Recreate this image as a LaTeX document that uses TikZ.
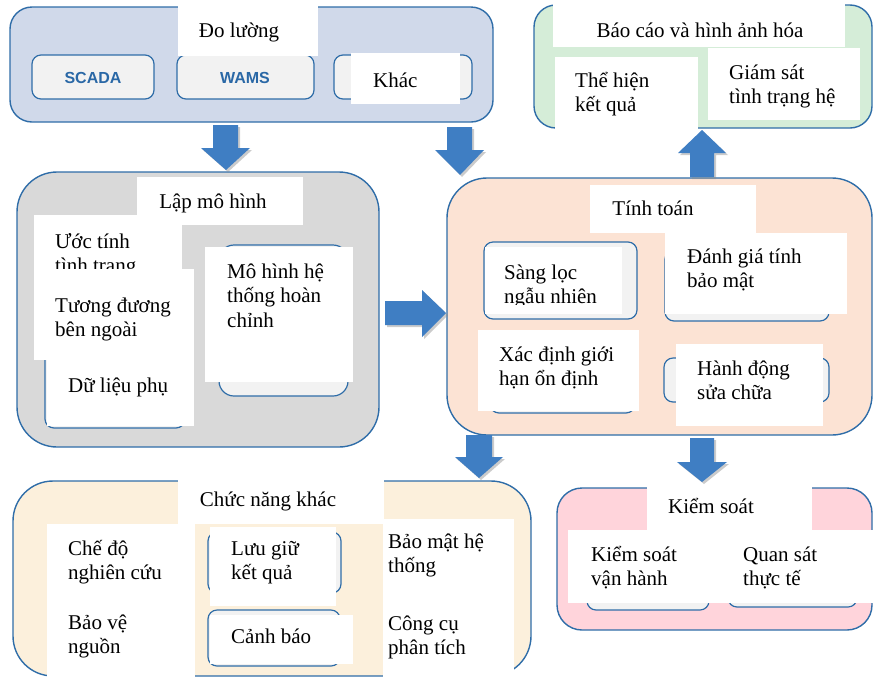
\documentclass[tikz,border=0pt]{standalone}
\usepackage{fontspec}
\setmainfont{Liberation Serif}
\newfontfamily\hdsans{Liberation Sans}
\usetikzlibrary{shadows}
\definecolor{bord}{HTML}{2F6DA8}
\definecolor{fmeas}{HTML}{D0D9EA}
\definecolor{frep}{HTML}{D5EDD8}
\definecolor{fmod}{HTML}{D9D9D9}
\definecolor{fcalc}{HTML}{FCE3D4}
\definecolor{fother}{HTML}{FCF0DC}
\definecolor{fctrl}{HTML}{FFD4DB}
\definecolor{fin}{HTML}{F2F2F2}
\definecolor{arrblue}{HTML}{3F7EC3}
\definecolor{sansblue}{HTML}{2A68A6}
\newcommand\tstrut{\rule{0pt}{21pt}}
\begin{document}
\begin{tikzpicture}[x=1pt,y=-1pt,
  outerbox/.style={draw=bord, line width=1.4pt, rounded corners=#1},
  innerbox/.style={draw=bord, line width=1.2pt, fill=fin, rounded corners=9pt},
  wh/.style={fill=white},
  txt/.style={anchor=north west, inner sep=0pt, align=left, font=\fontsize{21}{24.5}\selectfont},
  ttl/.style={anchor=base, inner sep=0pt, font=\fontsize{21}{24.5}\selectfont},
  sanslbl/.style={anchor=base, inner sep=0pt, text=sansblue, font=\hdsans\bfseries\fontsize{16}{18}\selectfont},
  barrow/.style={fill=arrblue, drop shadow={fill=black!45, opacity=0.45, shadow xshift=2pt, shadow yshift=-2pt}}
]
\useasboundingbox (0,0) rectangle (874,678);

% ---------- Do luong ----------
\draw[outerbox=22pt, fill=fmeas] (10,7) rectangle (493,122);
\draw[innerbox] (32,55) rectangle (154,99);
\draw[innerbox] (177,55) rectangle (314,99);
\draw[innerbox] (334,55) rectangle (472,99);
\fill[wh] (178,5) rectangle (318,56);
\fill[wh] (351,53) rectangle (460,104);
\node[ttl] (tmeas) at (239,37) {Đo lường};
\node[sanslbl] (scada) at (93,83) {SCADA};
\node[sanslbl] (wams) at (245,83) {WAMS};
\node[txt] (khac) at (373,66) {\tstrut Khác};

% ---------- Bao cao ----------
\draw[outerbox=22pt, fill=frep] (534,5) rectangle (872,128);
\fill[wh] (553,3) rectangle (845,47);
\fill[wh] (555,57) rectangle (698,132);
\fill[wh] (708,48) rectangle (860,120);
\node[ttl] (trep) at (700,37) {Báo cáo và hình ảnh hóa};
\node[txt] (thehien) at (575,66) {\tstrut Thể hiện\\kết quả};
\node[txt] (giamsat) at (729,58) {\tstrut Giám sát\\tình trạng hệ};

% ---------- Lap mo hinh ----------
\draw[outerbox=40pt, fill=fmod] (17,172) rectangle (379,447);
\draw[innerbox] (45,340) rectangle (185,428);
\draw[innerbox, rounded corners=15pt] (219,245) rectangle (348,396);
\fill[wh] (137,177) rectangle (303,225);
\node[ttl] (tmod) at (213,208) {Lập mô hình};
\fill[wh] (34,215) rectangle (182,278);
\node[txt] (uoctinh) at (55,227) {\tstrut Ước tính\\tình trạng};
\fill[wh] (34,269) rectangle (194,360);
\node[txt] (tuongduong) at (55,291) {\tstrut Tương đương\\bên ngoài};
\fill[wh] (47,360) rectangle (194,426);
\node[txt] (dulieu) at (68,371) {\tstrut Dữ liệu phụ};
\fill[wh] (205,247) rectangle (353,382);
\node[txt] (mohinh) at (227,257) {\tstrut Mô hình hệ\\thống hoàn\\chỉnh};

% ---------- Tinh toan ----------
\draw[outerbox=40pt, fill=fcalc] (447,178) rectangle (872,435);
\draw[innerbox] (484,242) rectangle (637,319);
\draw[innerbox] (665,250) rectangle (829,321);
\draw[innerbox] (490,340) rectangle (635,413);
\draw[innerbox] (664,358) rectangle (829,402);
\fill[wh] (590,185) rectangle (756,233);
\node[ttl] (tcalc) at (653,215) {Tính toán};
\fill[wh] (485,247) rectangle (622,314);
\begin{scope}
\clip (485,247) rectangle (622,304);
\node[txt] (sangloc) at (504,258) {\tstrut Sàng lọc\\ngẫu nhiên};
\end{scope}
\fill[wh] (665,233) rectangle (847,314);
\node[txt] (danhgia) at (687,242) {\tstrut Đánh giá tính\\bảo mật};
\fill[wh] (478,330) rectangle (639,411);
\node[txt] (xacdinh) at (499,340) {\tstrut Xác định giới\\hạn ổn định};
\fill[wh] (676,344) rectangle (823,426);
\node[txt] (hanhdong) at (697,354) {\tstrut Hành động\\sửa chữa};

% ---------- Chuc nang khac ----------
\draw[outerbox=40pt, fill=fother] (13,481) rectangle (531,676);
\draw[innerbox] (208,532) rectangle (341,593);
\draw[innerbox] (208,610) rectangle (340,666);
\fill[wh] (178,479) rectangle (384,524);
\node[ttl] (tother) at (268,506) {Chức năng khác};
\fill[wh] (47,524) rectangle (195,679);
\fill[wh] (210,527) rectangle (336,606);
\fill[wh] (210,615) rectangle (353,664);
\fill[wh] (383,519) rectangle (514,679);
\node[txt] (chedo) at (68,534) {\tstrut Chế độ\\nghiên cứu};
\node[txt] (baove) at (68,608) {\tstrut Bảo vệ\\nguồn};
\node[txt] (luugiu) at (231,534) {\tstrut Lưu giữ\\kết quả};
\node[txt] (canhbao) at (231,622) {\tstrut Cảnh báo};
\node[txt] (baomat) at (388,527) {\tstrut Bảo mật hệ\\thống};
\node[txt] (congcu) at (388,609) {\tstrut Công cụ\\phân tích};

% ---------- Kiem soat ----------
\draw[outerbox=25pt, fill=fctrl] (557,488) rectangle (872,630);
\draw[innerbox] (587,540) rectangle (709,610);
\draw[innerbox] (728,540) rectangle (857,607);
\fill[wh] (647,486) rectangle (812,530);
\fill[wh] (568,530) rectangle (874,603);
\node[ttl] (tctrl) at (711,513) {Kiểm soát};
\node[txt] (ksvh) at (591,540) {\tstrut Kiểm soát\\vận hành};
\node[txt] (quansat) at (743,540) {\tstrut Quan sát\\thực tế};

% ---------- block arrows ----------
\fill[barrow] (213,125) -- (238,125) -- (238,148) -- (250,148) -- (226,170) -- (201,148) -- (213,148) -- cycle;
\fill[barrow] (447,127) -- (472,127) -- (472,150) -- (484,150) -- (460,175) -- (435,150) -- (447,150) -- cycle;
\fill[barrow] (385,301) -- (422,301) -- (422,290) -- (446,313) -- (422,337) -- (422,325) -- (385,325) -- cycle;
\fill[barrow] (690,177) -- (690,153) -- (678,153) -- (702,130) -- (726,153) -- (714,153) -- (714,177) -- cycle;
\fill[barrow] (466,435) -- (492,435) -- (492,457) -- (503,457) -- (479,478) -- (455,457) -- (466,457) -- cycle;
\fill[barrow] (690,438) -- (714,438) -- (714,462) -- (727,462) -- (702,482) -- (677,462) -- (690,462) -- cycle;
\end{tikzpicture}
\end{document}
